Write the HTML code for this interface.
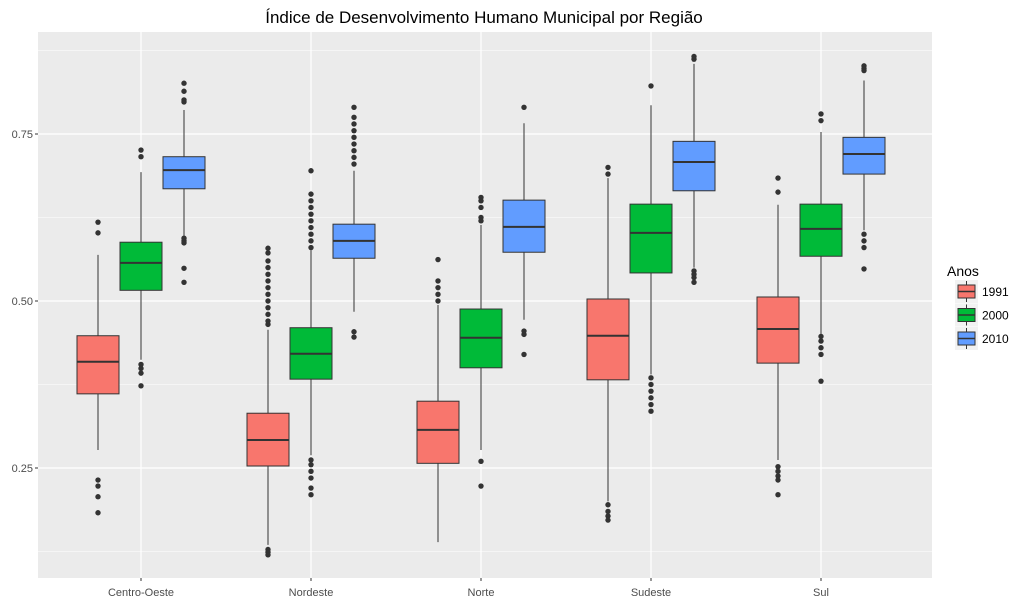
<!DOCTYPE html>
<html><head><meta charset="utf-8"><style>
body{margin:0;background:#fff;}
svg text{font-family:"Liberation Sans",Arial,sans-serif;}
</style></head><body>
<svg id="c" width="1024" height="604" xmlns="http://www.w3.org/2000/svg">
<text x="484" y="23" text-anchor="middle" font-size="17" fill="#000">Índice de Desenvolvimento Humano Municipal por Região</text>
<rect x="38" y="32" width="894" height="546" fill="#EBEBEB"/>
<g id="grid"></g><g id="boxes"></g><g id="axes"></g>
<g>
<text x="947" y="276" font-size="14" fill="#000">Anos</text>
<g id="leg"></g>
</g>
</svg>
<script>
const categories=["Centro-Oeste","Nordeste","Norte","Sudeste","Sul"];
const years=["1991","2000","2010"];
const colors=["#F8766D","#00BA38","#619CFF"];
const yTicks=[0.25,0.5,0.75];
const yMinor=[0.125,0.375,0.625,0.875];
// each: [whiskerLow, q1, median, q3, whiskerHigh]
const stats1991=[[0.277,0.361,0.409,0.448,0.569],[0.135,0.253,0.292,0.332,0.457],[0.139,0.257,0.307,0.35,0.494],[0.20,0.382,0.448,0.503,0.684],[0.262,0.407,0.458,0.506,0.644]];
const stats2000=[[0.412,0.516,0.557,0.588,0.693],[0.269,0.383,0.421,0.46,0.576],[0.277,0.40,0.445,0.488,0.614],[0.39,0.542,0.602,0.645,0.793],[0.45,0.567,0.608,0.645,0.753]];
const stats2010=[[0.596,0.668,0.696,0.716,0.786],[0.484,0.564,0.59,0.615,0.695],[0.472,0.573,0.611,0.651,0.766],[0.55,0.665,0.708,0.739,0.855],[0.606,0.69,0.72,0.745,0.83]];
const out1991=[[0.618,0.602,0.232,0.223,0.207,0.183],[0.579,0.572,0.56,0.55,0.54,0.53,0.52,0.51,0.50,0.49,0.48,0.47,0.465,0.128,0.124,0.120],[0.562,0.53,0.52,0.51,0.50],[0.70,0.69,0.195,0.185,0.178,0.172],[0.684,0.663,0.252,0.245,0.238,0.232,0.21]];
const out2000=[[0.726,0.716,0.405,0.399,0.392,0.373],[0.695,0.66,0.65,0.64,0.63,0.62,0.61,0.60,0.59,0.58,0.262,0.255,0.245,0.235,0.22,0.21],[0.655,0.65,0.64,0.625,0.62,0.26,0.223],[0.822,0.385,0.375,0.365,0.355,0.345,0.335],[0.78,0.77,0.447,0.44,0.43,0.42,0.38]];
const out2010=[[0.826,0.814,0.801,0.798,0.594,0.59,0.587,0.549,0.528],[0.79,0.775,0.765,0.755,0.745,0.735,0.725,0.715,0.705,0.454,0.446],[0.79,0.455,0.45,0.42],[0.866,0.862,0.545,0.54,0.535,0.528],[0.852,0.848,0.845,0.60,0.59,0.58,0.548]];
const allStats=[stats1991,stats2000,stats2010],allOut=[out1991,out2000,out2010];
const NS="http://www.w3.org/2000/svg";
const yS=v=>301-(v-0.5)*668;
const xS=i=>141+i*170;
const dodge=43,bw=42;
function mk(p,t,a){const e=document.createElementNS(NS,t);for(const k in a)e.setAttribute(k,a[k]);p.appendChild(e);return e;}
const G=document.getElementById('grid'),B=document.getElementById('boxes'),A=document.getElementById('axes');
yMinor.forEach(v=>{const l=mk(G,'line',{x1:38,x2:932,y1:yS(v),y2:yS(v),stroke:'#fff','stroke-width':0.6});

});
yTicks.forEach(v=>{const l=mk(G,'line',{x1:38,x2:932,y1:yS(v),y2:yS(v),stroke:'#fff','stroke-width':1.2});


const t=mk(A,'text',{x:33,y:yS(v)+4,'text-anchor':'end','font-size':11,fill:'#4D4D4D'});t.textContent=v.toFixed(2);


const k=mk(A,'line',{x1:35,x2:38,y1:yS(v),y2:yS(v),stroke:'#333'});

});
categories.forEach((c,i)=>{const l=mk(G,'line',{x1:xS(i),x2:xS(i),y1:32,y2:578,stroke:'#fff','stroke-width':1.2});


const t=mk(A,'text',{x:xS(i),y:596,'text-anchor':'middle','font-size':11,fill:'#4D4D4D'});t.textContent=c;


const k=mk(A,'line',{x1:xS(i),x2:xS(i),y1:578,y2:581,stroke:'#333'});

});
allStats.forEach((st,j)=>{st.forEach((s,i)=>{
const cx=xS(i)+(j-1)*dodge;
const g=mk(B,'g',{});


mk(g,'line',{x1:cx,x2:cx,y1:yS(s[0]),y2:yS(s[1]),stroke:'#333'});
mk(g,'line',{x1:cx,x2:cx,y1:yS(s[3]),y2:yS(s[4]),stroke:'#333'});
mk(g,'rect',{x:cx-bw/2,y:yS(s[3]),width:bw,height:yS(s[1])-yS(s[3]),fill:colors[j],stroke:'#333','stroke-width':1});
mk(g,'line',{x1:cx-bw/2,x2:cx+bw/2,y1:yS(s[2]),y2:yS(s[2]),stroke:'#333','stroke-width':2});
allOut[j][i].forEach(v=>{const o=mk(g,'circle',{cx:cx,cy:yS(v),r:2.7,fill:'#333'});

});
});});
const L=document.getElementById('leg');
years.forEach((y,j)=>{const oy=280+j*23.5;
const g=mk(L,'g',{});


mk(g,'rect',{x:955,y:oy,width:23,height:23,fill:'#F2F2F2'});
mk(g,'line',{x1:966.5,x2:966.5,y1:oy+1,y2:oy+22,stroke:'#333'});
mk(g,'rect',{x:958,y:oy+5,width:17,height:13,fill:colors[j],stroke:'#333'});
mk(g,'line',{x1:958,x2:975,y1:oy+11.5,y2:oy+11.5,stroke:'#333','stroke-width':1.5});
const t=mk(g,'text',{x:982,y:oy+16,'font-size':12,fill:'#000'});t.textContent=y;});
</script>
</body></html>
